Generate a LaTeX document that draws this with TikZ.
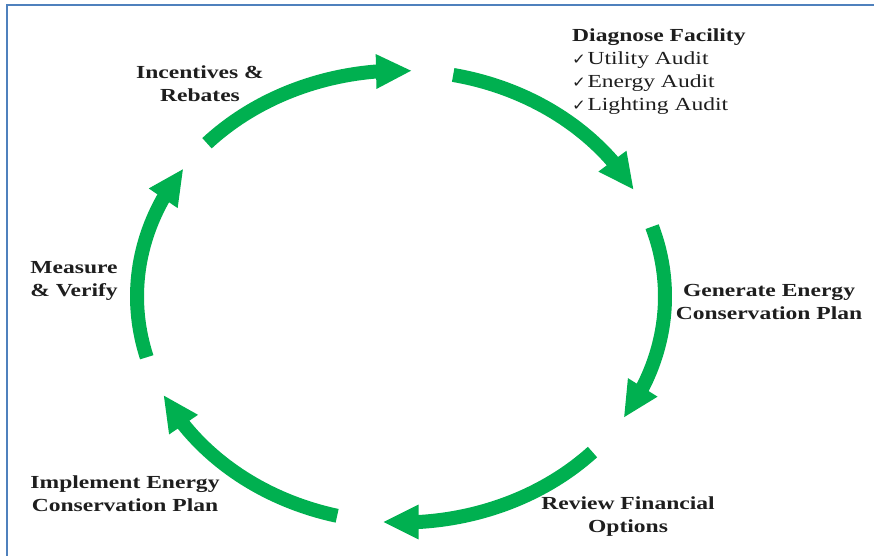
\documentclass[tikz,border=0pt]{standalone}
\usepackage{fontspec}
\setmainfont{Liberation Serif}[FakeStretch=1.28]
\newfontfamily\checkfont{DejaVu Sans}[FakeStretch=1.1]
\usetikzlibrary{arrows.meta,bending,calc}
\definecolor{cycgreen}{RGB}{0,176,80}
\definecolor{framebl}{RGB}{79,129,189}
\definecolor{txtdark}{RGB}{30,30,30}
\newcommand\chk{{\checkfont\fontsize{15}{23}\selectfont ✓}\kern1.5pt}
\begin{document}
\begin{tikzpicture}[x=1pt,y=1pt,
  cyc/.style={draw=cycgreen, line width=14pt, -{Triangle[length=36pt,width=32pt,flex]}},
  lbl/.style={font=\bfseries\fontsize{18.4}{23}\selectfont, align=center, inner sep=0pt, text=txtdark},
]
\useasboundingbox (0,0) rectangle (874,555);
\fill[white] (0,0) rectangle (874,555);
\draw[framebl, line width=2pt] (7,-5) -- (7,550) -- (880,550);
\coordinate (c) at (401,258.5);
\foreach \s/\e [count=\i] in {137.3/87.6, 78.6/28.1, 18/-32.5, -43.5/-94, -104/-154.2, 195.6/145.5}{
  \coordinate (s\i) at ($(c)+(\s:264pt and 226pt)$);
  \draw[cyc] (s\i) arc[start angle=\s, end angle=\e, x radius=264pt, y radius=226pt];
}
\node[lbl] (incent) at (200,471.5) {Incentives \&\\Rebates};
\node[lbl, align=left, anchor=west] (diag) at (572,483)
  {Diagnose Facility\\
   \chk{\mdseries Utility Audit}\\
   \chk{\mdseries Energy Audit}\\
   \chk{\mdseries Lighting Audit}};
\node[lbl] (measure) at (74,274) {Measure\\\& Verify};
\node[lbl] (generate) at (769,253) {Generate Energy\\Conservation Plan};
\node[lbl] (review) at (628,38.5) {Review Financial\\Options};
\node[lbl] (implement) at (125,61.5) {Implement Energy\\Conservation Plan};
\end{tikzpicture}
\end{document}
